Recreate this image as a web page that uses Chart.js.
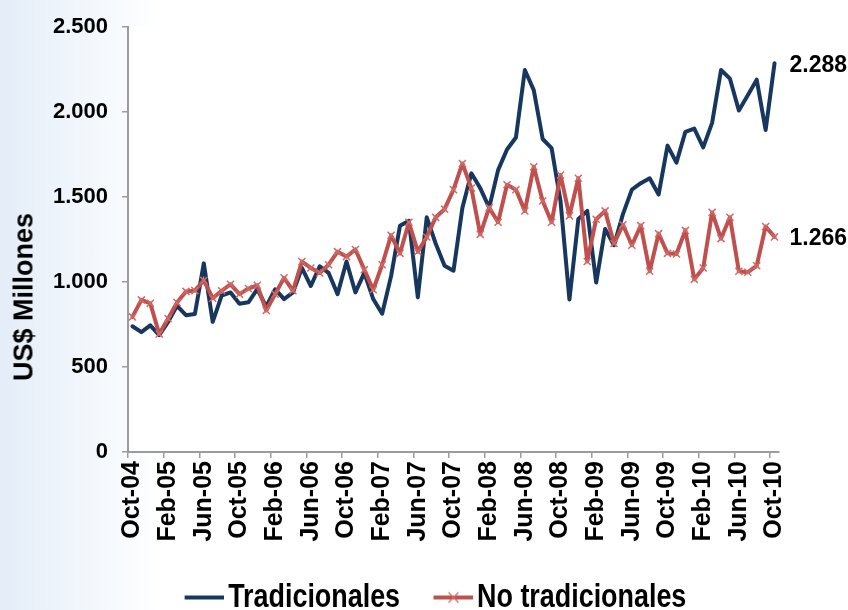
<!DOCTYPE html>
<html><head><meta charset="utf-8">
<script src="https://cdn.jsdelivr.net/npm/chart.js@4.4.1/dist/chart.umd.min.js"></script>
<style>
html,body{margin:0;padding:0;}
body{width:848px;height:610px;overflow:hidden;position:relative;background:linear-gradient(to right,#e4edf8 0px,#eff5fb 70px,#ffffff 160px);}
#wrap{position:absolute;left:0;top:0;width:848px;height:610px;}
#ytitle{position:absolute;left:24px;top:297px;transform:translate(-50%,-50%) rotate(-90deg);font:bold 27px 'Liberation Sans',Arial,sans-serif;white-space:nowrap;color:#000;}
</style></head><body>
<div id="wrap"><canvas id="c" width="848" height="610"></canvas></div>
<div id="ytitle">US$ Millones</div>
<script>
const categories = [
 'Oct-04','Nov-04','Dec-04',
 'Jan-05','Feb-05','Mar-05','Apr-05','May-05','Jun-05','Jul-05','Aug-05','Sep-05','Oct-05','Nov-05','Dec-05',
 'Jan-06','Feb-06','Mar-06','Apr-06','May-06','Jun-06','Jul-06','Aug-06','Sep-06','Oct-06','Nov-06','Dec-06',
 'Jan-07','Feb-07','Mar-07','Apr-07','May-07','Jun-07','Jul-07','Aug-07','Sep-07','Oct-07','Nov-07','Dec-07',
 'Jan-08','Feb-08','Mar-08','Apr-08','May-08','Jun-08','Jul-08','Aug-08','Sep-08','Oct-08','Nov-08','Dec-08',
 'Jan-09','Feb-09','Mar-09','Apr-09','May-09','Jun-09','Jul-09','Aug-09','Sep-09','Oct-09','Nov-09','Dec-09',
 'Jan-10','Feb-10','Mar-10','Apr-10','May-10','Jun-10','Jul-10','Aug-10','Sep-10','Oct-10'
];
const tradicionales = [
 740, 705, 745,
 688, 766, 860, 805, 812, 1110, 766, 920, 939, 872, 881, 958,
 855, 958, 900, 939, 1083, 977, 1093, 1054, 929, 1121, 939, 1054,
 900, 814, 1035, 1332, 1361, 910, 1381, 1227, 1096, 1067, 1438, 1640,
 1553, 1438, 1659, 1780, 1851, 2248, 2130, 1842, 1788, 1477, 897, 1371,
 1419, 997, 1313, 1217, 1400, 1544, 1582, 1611, 1515, 1803, 1703, 1884,
 1903, 1793, 1937, 2248, 2197, 2010, 2100, 2191, 1895, 2288
];
const noTradicionales = [
 795, 895, 875,
 695, 785, 880, 945, 950, 1010, 905, 949, 987, 929, 962, 981,
 833, 929, 1025, 949, 1121, 1083, 1054, 1102, 1179, 1150, 1192, 1073,
 955, 1102, 1275, 1169, 1352, 1179, 1265, 1381, 1429, 1544, 1698, 1553,
 1281, 1438, 1352, 1573, 1544, 1419, 1679, 1477, 1352, 1630, 1390, 1611,
 1121, 1370, 1419, 1227, 1337, 1217, 1332, 1064, 1285, 1169, 1165, 1304,
 1016, 1083, 1410, 1256, 1381, 1064, 1058, 1096, 1327, 1266
];
const yTickLabels = ['0','500','1.000','1.500','2.000','2.500'];
const seriesNames = ['Tradicionales','No tradicionales'];
const seriesColors = ['#17375E','#C0504D'];

const baseFont = "'Liberation Sans', Arial, sans-serif";
const axisGray = '#9C9C9C';
const legendScaleX = 0.815;
const legendCenterX = 429;
const legendShiftX = 26;

function fmt(v){ return String(v).replace(/\B(?=(\d{3})+(?!\d))/g,'.'); }

function legendSymbol(color, cross){
  const c = document.createElement('canvas');
  c.width = 92; c.height = 16;
  const g = c.getContext('2d');
  g.strokeStyle = color; g.lineWidth = 4; g.lineCap = 'butt';
  g.beginPath(); g.moveTo(43,8); g.lineTo(92,8); g.stroke();
  if (cross){
    g.lineWidth = 1.6; g.strokeStyle = '#D06A66';
    g.beginPath(); g.moveTo(61.5,3); g.lineTo(73.5,13); g.moveTo(73.5,3); g.lineTo(61.5,13); g.stroke();
  }
  return c;
}
const symbols = [legendSymbol(seriesColors[0], false), legendSymbol(seriesColors[1], true)];

const plotBg = {
  id:'plotBg',
  beforeDraw(chart){
    const a = chart.chartArea, ctx = chart.ctx;
    ctx.save(); ctx.fillStyle = '#ffffff';
    ctx.fillRect(a.left, a.top, a.right - a.left, a.bottom - a.top);
    ctx.restore();
  }
};
const legendAdjust = {
  id:'legendAdjust',
  afterLayout(chart){
    const l = chart.legend;
    if (!l) return;
    l.top += 14; l.bottom += 14;
    if (!l._narrowPatched){
      const orig = l.draw;
      l.draw = function(area){
        const ctx = this.ctx;
        ctx.save();
        ctx.translate(legendCenterX + legendShiftX, 0); ctx.scale(legendScaleX, 1); ctx.translate(-legendCenterX, 0);
        orig.call(this, area);
        ctx.restore();
      };
      l._narrowPatched = true;
    }
  }
};
const endLabels = {
  id:'endLabels',
  afterDatasetsDraw(chart){
    const ctx = chart.ctx;
    chart.data.datasets.forEach((ds, i) => {
      const meta = chart.getDatasetMeta(i);
      const pt = meta.data[meta.data.length - 1];
      ctx.save();
      ctx.font = 'bold 23px ' + baseFont;
      ctx.fillStyle = '#000'; ctx.textAlign = 'left'; ctx.textBaseline = 'middle';
      ctx.fillText(fmt(ds.data[ds.data.length - 1]), pt.x + 15, pt.y + 2);
      ctx.restore();
    });
  }
};

new Chart(document.getElementById('c'), {
  type: 'line',
  data: {
    labels: categories,
    datasets: [
      { label: seriesNames[0], data: tradicionales, borderColor: seriesColors[0], backgroundColor: seriesColors[0],
        borderWidth: 4, pointRadius: 0, tension: 0, borderJoinStyle: 'round', borderCapStyle: 'round', order: 1 },
      { label: seriesNames[1], data: noTradicionales, borderColor: seriesColors[1], backgroundColor: seriesColors[1],
        borderWidth: 4, pointStyle: 'crossRot', pointRadius: 5, pointBorderWidth: 1.5, pointBorderColor: '#D06A66',
        tension: 0, borderJoinStyle: 'round', borderCapStyle: 'round', order: 0 }
    ]
  },
  options: {
    responsive: false, animation: false, devicePixelRatio: 1,
    layout: { padding: { top: 18, right: 69, left: 0, bottom: 0 } },
    scales: {
      x: {
        offset: true,
        afterFit(s){ s.height = 105; },
        border: { color: axisGray, width: 2 },
        grid: { offset: true, drawOnChartArea: false, drawTicks: true, tickLength: 6,
                color: c => (c.index % 4 === 0 ? axisGray : 'rgba(0,0,0,0)'), lineWidth: 1.5 },
        ticks: { autoSkip: false, minRotation: 90, maxRotation: 90, padding: 3, color: '#000',
                 font: { family: baseFont, size: 25, weight: 'bold' },
                 callback: (v, i) => (i % 4 === 0 ? categories[i] : '') }
      },
      y: {
        min: 0, max: 2500,
        afterFit(s){ s.width = 128; },
        border: { color: axisGray, width: 2 },
        grid: { drawOnChartArea: false, drawTicks: true, tickLength: 6, color: axisGray, lineWidth: 1.5 },
        ticks: { stepSize: 500, padding: 14, color: '#000',
                 font: { family: baseFont, size: 22, weight: 'bold' },
                 callback: v => yTickLabels[Math.round(v / 500)] }
      }
    },
    plugins: {
      tooltip: { enabled: false },
      legend: {
        position: 'bottom',
        labels: {
          usePointStyle: true, pointStyleWidth: 68, padding: 10, color: '#000',
          font: { family: baseFont, size: 33, weight: 'bold' },
          sort: (a, b) => a.datasetIndex - b.datasetIndex,
          generateLabels(chart){
            const items = Chart.defaults.plugins.legend.labels.generateLabels(chart);
            items.forEach(it => { it.pointStyle = symbols[it.datasetIndex]; });
            return items;
          }
        }
      }
    }
  },
  plugins: [plotBg, legendAdjust, endLabels]
});
</script>
</body></html>
